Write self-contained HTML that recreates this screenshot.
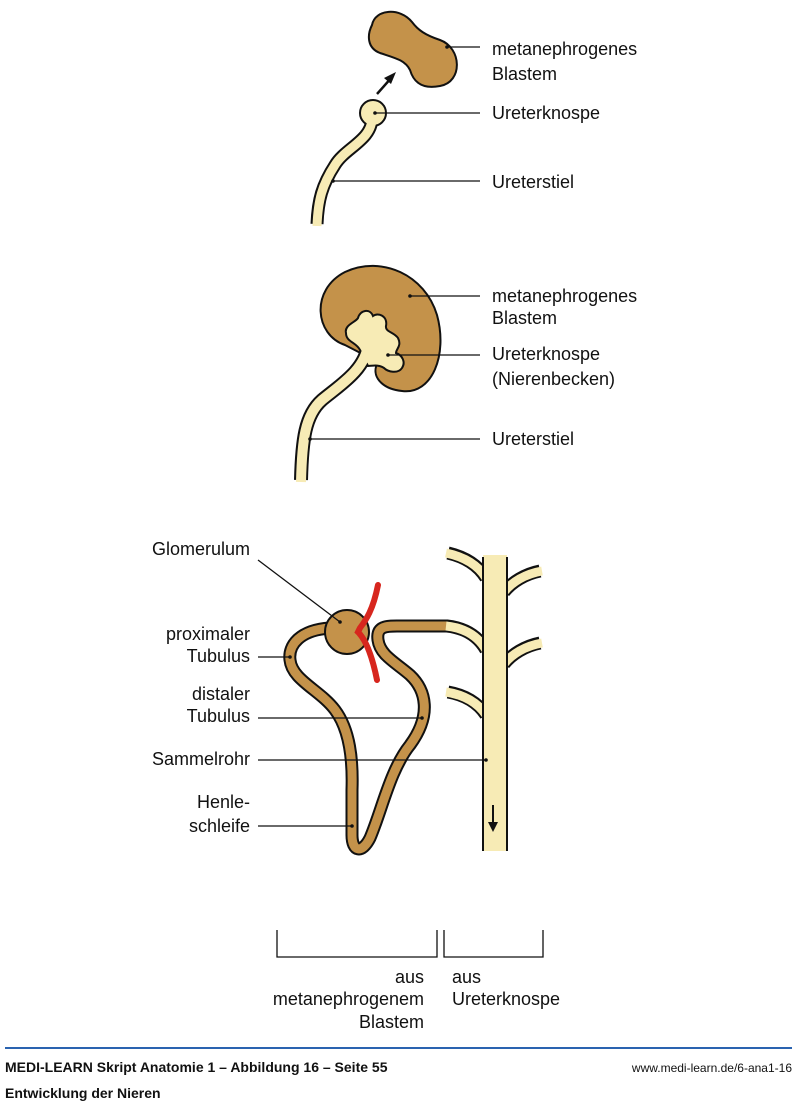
<!DOCTYPE html>
<html><head><meta charset="utf-8"><style>
html,body{margin:0;padding:0;background:#fff;width:800px;height:1102px;overflow:hidden}
svg{display:block}
text{font-family:"Liberation Sans Narrow","Liberation Sans",sans-serif;font-size:18px;fill:#111}
.f{font-family:"Liberation Sans Narrow","Liberation Sans",sans-serif;font-weight:bold;font-size:14px}
</style></head><body>
<svg width="800" height="1102" viewBox="0 0 800 1102" xmlns="http://www.w3.org/2000/svg">
<g stroke="#111" fill="none">
<path d="M372,25 C375,9 400,7 412,22 C418,30 425,35 440,40 C462,48 463,82 440,86 C420,90 413,80 410,70 C405,60 395,58 380,53 C367,48 367,35 372,25 Z" fill="#C4924A" stroke-width="2"/>
<path d="M377,94 L392,77" stroke-width="2.5"/>
<path d="M396,72 L384,78 L391,84 Z" fill="#111" stroke="none"/>
<path d="M372,118 C372,140 345,148 335,165 C322,185 318,200 317,224" stroke-width="13"/>
<circle cx="373" cy="113" r="13" fill="#F7EBB5" stroke-width="2"/>
<path d="M372,118 C372,140 345,148 335,165 C322,185 318,200 317,226" stroke="#F7EBB5" stroke-width="9"/>
<path d="M345,345 C315,335 310,290 345,272 C382,255 425,275 437,315 C448,355 432,395 402,391 C382,389 370,376 378,362 Z" fill="#C4924A" stroke-width="2"/>
<path d="M368,345 C365,370 340,385 322,400 C305,415 302,440 301,480" stroke-width="14"/>
<path d="M346,333 C344,325 356,322 358,318 C360,310 370,308 373,316 C378,312 388,316 386,326 C385,332 394,332 398,338 C402,346 396,349 396,353 C402,355 406,362 402,368 C398,374 388,372 384,368 C378,364 372,366 368,366 L360,350 C356,342 346,342 346,333 Z" fill="#F7EBB5" stroke-width="2"/>
<path d="M368,345 C365,370 340,385 322,400 C305,415 302,440 301,482" stroke="#F7EBB5" stroke-width="10"/>
<path d="M330,628 C300,630 288,645 290,660 C292,680 320,690 335,710 C350,730 353,760 352,790 L352,835 C352,852 362,854 370,838 C382,810 390,770 410,745 C432,715 426,690 410,675 C395,662 380,655 378,640 C376,625 388,626 400,626 L448,626" stroke-width="13"/>
<path d="M330,628 C300,630 288,645 290,660 C292,680 320,690 335,710 C350,730 353,760 352,790 L352,835 C352,852 362,854 370,838 C382,810 390,770 410,745 C432,715 426,690 410,675 C395,662 380,655 378,640 C376,625 388,626 400,626 L448,626" stroke="#C4924A" stroke-width="9"/>
<g stroke-width="13">
<path d="M448,553 C465,557 478,565 486,578"/>
<path d="M448,692 C465,695 478,703 486,715"/>
<path d="M540,571 C525,574 512,582 504,592"/>
<path d="M540,643 C525,646 512,654 504,664"/>
<path d="M447,626 C465,628 478,636 486,650"/>
</g>
<g stroke="#F7EBB5" stroke-width="9">
<path d="M446,553 C465,557 478,565 486,578"/>
<path d="M446,692 C465,695 478,703 486,715"/>
<path d="M542,571 C525,574 512,582 504,592"/>
<path d="M542,643 C525,646 512,654 504,664"/>
<path d="M446,626 C465,628 478,636 486,650"/>
</g>
<rect x="483" y="555" width="24" height="296" fill="#F7EBB5" stroke="none"/>
<path d="M483,557 L483,851 M507,557 L507,851" stroke-width="2"/>
<circle cx="347" cy="632" r="22" fill="#C4924A" stroke-width="2"/>
<path d="M378,585 C373,610 366,620 360,628 L358,632 C366,640 372,655 377,680" stroke="#D7261E" stroke-width="6" stroke-linecap="round"/>
<path d="M493,805 L493,825" stroke-width="2"/>
<path d="M488,822 L498,822 L493,832 Z" fill="#111" stroke="none"/>
<g stroke-width="1.3">
<path d="M447,47 H480 M375,113 H480 M333,181 H480"/>
<path d="M410,296 H480 M388,355 H480 M310,439 H480"/>
<path d="M258,560 L340,622 M258,657 H290 M258,718 H422 M258,760 H486 M258,826 H352"/>
<path d="M277,930 V957 H437 V930 M444,930 V957 H543 V930"/>
</g>
</g>
<g fill="#111">
<circle cx="447" cy="47" r="1.8"/><circle cx="375" cy="113" r="1.8"/><circle cx="333" cy="181" r="1.8"/>
<circle cx="410" cy="296" r="1.8"/><circle cx="388" cy="355" r="1.8"/><circle cx="310" cy="439" r="1.8"/>
<circle cx="340" cy="622" r="1.8"/><circle cx="290" cy="657" r="1.8"/><circle cx="422" cy="718" r="1.8"/><circle cx="486" cy="760" r="1.8"/><circle cx="352" cy="826" r="1.8"/>
</g>
<text x="492" y="55">metanephrogenes</text>
<text x="492" y="80">Blastem</text>
<text x="492" y="119">Ureterknospe</text>
<text x="492" y="188">Ureterstiel</text>
<text x="492" y="302">metanephrogenes</text>
<text x="492" y="324">Blastem</text>
<text x="492" y="360">Ureterknospe</text>
<text x="492" y="385">(Nierenbecken)</text>
<text x="492" y="445">Ureterstiel</text>
<g text-anchor="end">
<text x="250" y="555">Glomerulum</text>
<text x="250" y="640">proximaler</text>
<text x="250" y="662">Tubulus</text>
<text x="250" y="700">distaler</text>
<text x="250" y="722">Tubulus</text>
<text x="250" y="765">Sammelrohr</text>
<text x="250" y="808">Henle-</text>
<text x="250" y="832">schleife</text>
<text x="424" y="983">aus</text>
<text x="424" y="1005">metanephrogenem</text>
<text x="424" y="1028">Blastem</text>
</g>
<text x="452" y="983">aus</text>
<text x="452" y="1005">Ureterknospe</text>
<rect x="5" y="1047" width="787" height="2" fill="#2a63b0"/>
<text class="f" x="5" y="1072">MEDI-LEARN Skript Anatomie 1 – Abbildung 16 – Seite 55</text>
<text class="f" x="5" y="1098">Entwicklung der Nieren</text>
<text x="792" y="1072" text-anchor="end" style="font-size:12px">www.medi-learn.de/6-ana1-16</text>
</svg>
</body></html>
